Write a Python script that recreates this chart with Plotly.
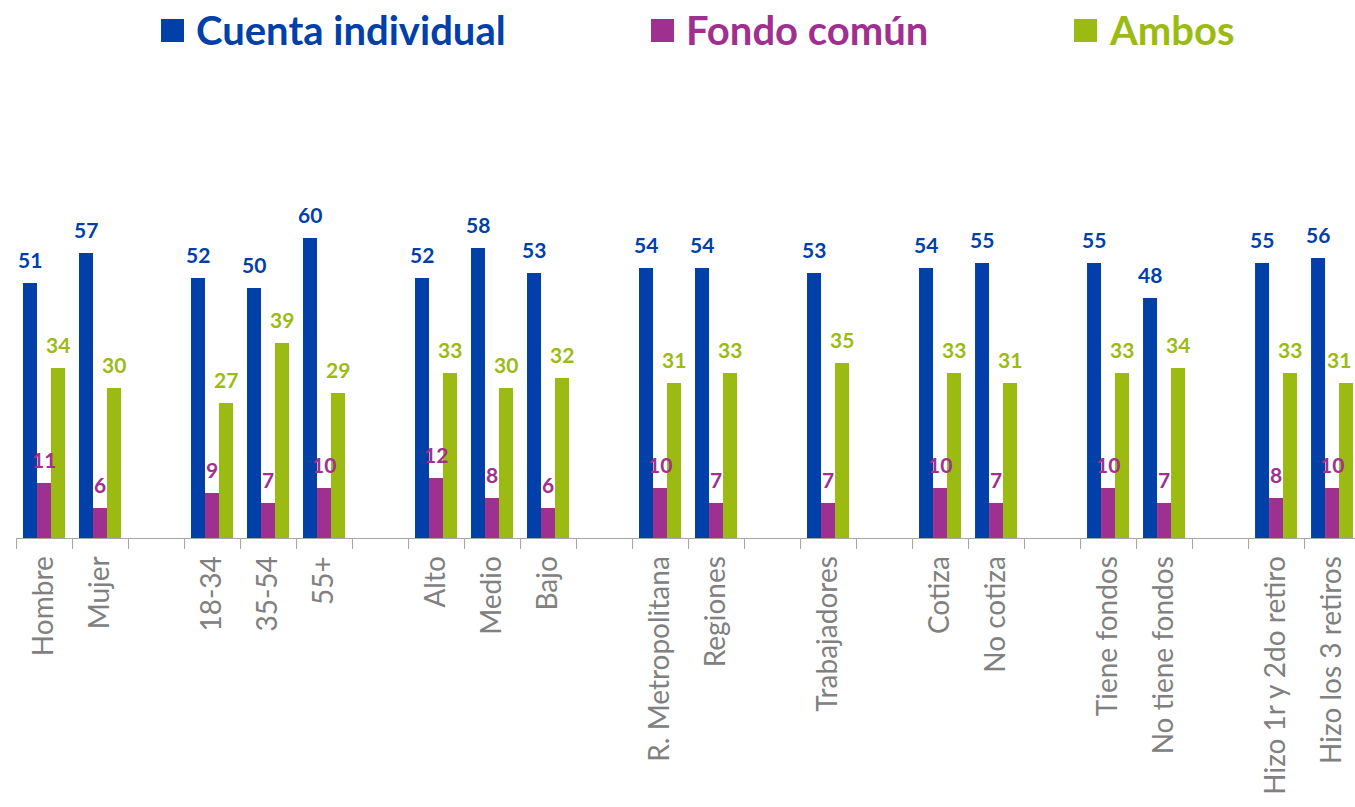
import plotly.graph_objects as go

# blank slots separate the groups
categories = ["Hombre", "Mujer", " ",
              "18-34", "35-54", "55+", "  ",
              "Alto", "Medio", "Bajo", "   ",
              "R. Metropolitana", "Regiones", "    ",
              "Trabajadores", "     ",
              "Cotiza", "No cotiza", "      ",
              "Tiene fondos", "No tiene fondos", "       ",
              "Hizo 1r y 2do retiro", "Hizo los 3 retiros"]

cuenta = [51, 57, None, 52, 50, 60, None, 52, 58, 53, None, 54, 54, None,
          53, None, 54, 55, None, 55, 48, None, 55, 56]
fondo = [11, 6, None, 9, 7, 10, None, 12, 8, 6, None, 10, 7, None,
         7, None, 10, 7, None, 10, 7, None, 8, 10]
ambos = [34, 30, None, 27, 39, 29, None, 33, 30, 32, None, 31, 33, None,
         35, None, 33, 31, None, 33, 34, None, 33, 31]

series = ["Cuenta individual", "Fondo común", "Ambos"]
colors = ["#0040A8", "#A0308F", "#9BBB12"]

font = "Lato"

fig = go.Figure()
annots = []
for i, (name, vals, col) in enumerate(zip(series, [cuenta, fondo, ambos], colors)):
    fig.add_trace(go.Bar(
        x=categories, y=vals, name=name,
        marker=dict(color=col, line=dict(width=0)),
    ))
    # value labels, floated a bit higher than plotly's own outside text
    for j, (c, v) in enumerate(zip(categories, vals)):
        if v is None:
            continue
        dx = (i - 1) * 14
        if j == len(categories) - 1 and i == 2:
            dx -= 7  # keep the last label inside the page edge
        annots.append(dict(x=c, y=v, xref="x", yref="y", text="<b>%d</b>" % v,
                           showarrow=False, xshift=dx, yshift=24,
                           yanchor="middle",
                           font=dict(family=font, size=21, color=col)))

fig.update_layout(
    width=1355, height=807,
    margin=dict(l=16, r=0, t=88, b=269),
    paper_bgcolor="white", plot_bgcolor="white",
    barmode="group", bargap=0.25, bargroupgap=0,
    showlegend=False,
    font=dict(family=font),
    xaxis=dict(
        type="category", range=[-0.5, 23.41], automargin=False,
        showline=True, linecolor="#A6A6A6", linewidth=1,
        ticks="outside", tickson="boundaries", ticklen=10, tickcolor="#A6A6A6",
        tickangle=-90, ticklabelstandoff=6,
        tickfont=dict(family=font, size=28, color="#808080"),
        showgrid=False,
    ),
    yaxis=dict(range=[0, 90], visible=False, showgrid=False, automargin=False),
)

# legend drawn by hand: coloured squares + coloured text, px -> paper
def px(x):
    return (x - 16) / 1339

def py(y):
    return (538 - y) / 450

leg_x = [161, 651, 1074]
shapes = []
for name, col, x0 in zip(series, colors, leg_x):
    shapes.append(dict(type="rect", xref="paper", yref="paper",
                       x0=px(x0), x1=px(x0 + 23), y0=py(42), y1=py(19),
                       line=dict(width=0), fillcolor=col))
    annots.append(dict(xref="paper", yref="paper", x=px(x0 + 33), y=py(30),
                       xanchor="left", yanchor="middle", showarrow=False,
                       text="<b>" + name + "</b>",
                       font=dict(family=font, size=40, color=col)))
fig.update_layout(shapes=shapes, annotations=annots)

# drop the page's default body margin so the figure sits at 0,0
fig.write_html("out.html", config={"displayModeBar": False},
               post_script="document.body.style.margin='0';"
                           "document.body.style.overflow='hidden';")
